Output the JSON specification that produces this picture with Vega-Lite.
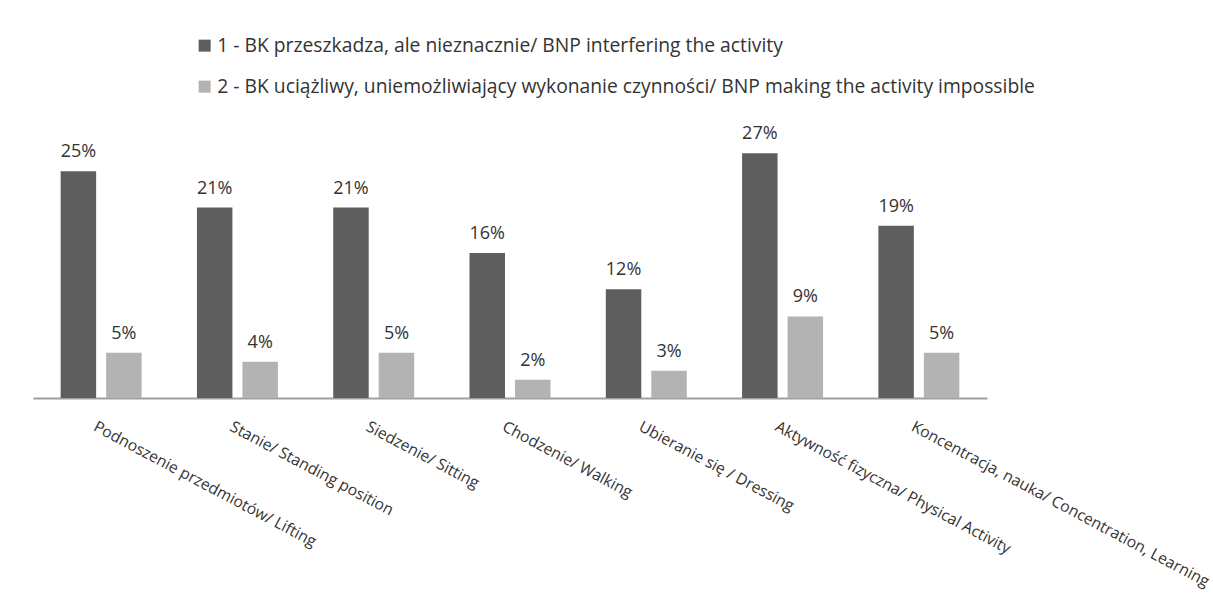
{
  "$schema": "https://vega.github.io/schema/vega-lite/v6.json",
  "width": 954,
  "height": 272,
  "autosize": {"type": "none"},
  "padding": {"left": 33, "top": 126, "right": 226, "bottom": 206},
  "background": "white",
  "config": {"view": {"stroke": null}, "font": "Open Sans"},
  "data": {
    "values": [
      {"activity": "Podnoszenie przedmiotów/ Lifting", "series": "1 - BK przeszkadza, ale nieznacznie/ BNP interfering the activity", "value": 0.25},
      {"activity": "Podnoszenie przedmiotów/ Lifting", "series": "2 - BK uciążliwy, uniemożliwiający wykonanie czynności/ BNP making the activity impossible", "value": 0.05},
      {"activity": "Stanie/ Standing position", "series": "1 - BK przeszkadza, ale nieznacznie/ BNP interfering the activity", "value": 0.21},
      {"activity": "Stanie/ Standing position", "series": "2 - BK uciążliwy, uniemożliwiający wykonanie czynności/ BNP making the activity impossible", "value": 0.04},
      {"activity": "Siedzenie/ Sitting", "series": "1 - BK przeszkadza, ale nieznacznie/ BNP interfering the activity", "value": 0.21},
      {"activity": "Siedzenie/ Sitting", "series": "2 - BK uciążliwy, uniemożliwiający wykonanie czynności/ BNP making the activity impossible", "value": 0.05},
      {"activity": "Chodzenie/ Walking", "series": "1 - BK przeszkadza, ale nieznacznie/ BNP interfering the activity", "value": 0.16},
      {"activity": "Chodzenie/ Walking", "series": "2 - BK uciążliwy, uniemożliwiający wykonanie czynności/ BNP making the activity impossible", "value": 0.02},
      {"activity": "Ubieranie się / Dressing", "series": "1 - BK przeszkadza, ale nieznacznie/ BNP interfering the activity", "value": 0.12},
      {"activity": "Ubieranie się / Dressing", "series": "2 - BK uciążliwy, uniemożliwiający wykonanie czynności/ BNP making the activity impossible", "value": 0.03},
      {"activity": "Aktywność fizyczna/ Physical Activity", "series": "1 - BK przeszkadza, ale nieznacznie/ BNP interfering the activity", "value": 0.27},
      {"activity": "Aktywność fizyczna/ Physical Activity", "series": "2 - BK uciążliwy, uniemożliwiający wykonanie czynności/ BNP making the activity impossible", "value": 0.09},
      {"activity": "Koncentracja, nauka/ Concentration, Learning", "series": "1 - BK przeszkadza, ale nieznacznie/ BNP interfering the activity", "value": 0.19},
      {"activity": "Koncentracja, nauka/ Concentration, Learning", "series": "2 - BK uciążliwy, uniemożliwiający wykonanie czynności/ BNP making the activity impossible", "value": 0.05}
    ]
  },
  "encoding": {
    "x": {
      "field": "activity",
      "type": "nominal",
      "sort": null,
      "scale": {"paddingInner": 0, "paddingOuter": 0},
      "axis": {
        "title": null,
        "ticks": false,
        "labelAngle": 28,
        "labelAlign": "left",
        "labelBaseline": "top",
        "labelPadding": 21,
        "labelOffset": -3,
        "labelFont": "Open Sans",
        "labelFontSize": 15.7,
        "labelColor": "#333333",
        "labelLimit": 0,
        "labelOverlap": false,
        "labelBound": false,
        "domainColor": "#a0a0a0",
        "domainWidth": 2
      }
    },
    "xOffset": {
      "field": "series",
      "type": "nominal",
      "scale": {"paddingInner": 0.22, "paddingOuter": 0.608}
    },
    "y": {
      "field": "value",
      "type": "quantitative",
      "scale": {"domain": [0, 0.3], "nice": false},
      "axis": null
    }
  },
  "layer": [
    {
      "mark": {"type": "bar"},
      "encoding": {
        "color": {
          "field": "series",
          "type": "nominal",
          "scale": {"range": ["#5e5e5e", "#b3b3b3"]},
          "legend": {
            "title": null,
            "orient": "none",
            "legendX": 162,
            "legendY": -90,
            "direction": "vertical",
            "symbolType": "square",
            "symbolSize": 144,
            "symbolStrokeWidth": 0,
            "labelFont": "Open Sans",
            "labelFontSize": 19.3,
            "labelColor": "#333333",
            "labelLimit": 0,
            "labelOffset": 3,
            "rowPadding": 21
          }
        }
      }
    },
    {
      "mark": {"type": "text", "dy": -14, "baseline": "alphabetic", "align": "center", "fontSize": 18, "font": "Open Sans", "color": "#333333"},
      "encoding": {
        "text": {"field": "value", "type": "quantitative", "format": ".0%"}
      }
    }
  ]
}
